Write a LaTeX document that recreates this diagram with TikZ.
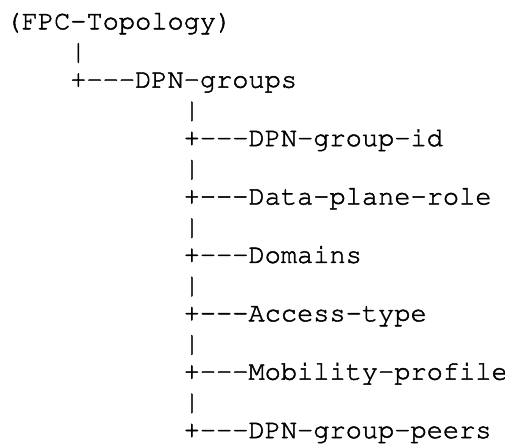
\documentclass[tikz,border=0pt]{standalone}
\usepackage[T1]{fontenc}
\newcommand\treemono{\fontfamily{pcr}\fontseries{m}\fontshape{n}\selectfont}
% branch mark, with the dashes kept apart so no ligature forms
\newcommand\branchmark{+-{}-{}-}
% slightly heavier strokes for the light Courier outlines (fill + stroke)
\newcommand\heavyon{\special{pdf:literal direct 2 Tr 0.45 w}}
\newcommand\heavyoff{\special{pdf:literal direct 0 Tr}}
\begin{document}
\begin{tikzpicture}[
  x=1pt, y=1pt,
  treeline/.style={anchor=base west, inner sep=0pt, outer sep=0pt,
    font=\fontsize{27}{29.2}\treemono, text=black,
    execute at begin node=\heavyon, execute at end node=\heavyoff},
]
% canvas
\fill[white] (0,0) rectangle (505,-446);
\useasboundingbox (0,0) rectangle (505,-446);
% character grid: column pitch and row pitch
\def\cw{16.2}
\def\rh{29.2}
\def\xo{5.5}
\def\yo{29.3}
% root
\node[treeline] (root) at (\xo, -\yo) {(FPC-Topology)};
\node[treeline] (bar1) at (\xo+4*\cw, -\yo-1*\rh-1) {|};
\node[treeline] (groups) at (\xo+4*\cw, -\yo-2*\rh) {\branchmark DPN-groups};
% children of DPN-groups
\node[treeline] (bar2) at (\xo+11*\cw, -\yo-3*\rh-1) {|};
\node[treeline] (gid) at (\xo+11*\cw, -\yo-4*\rh) {\branchmark DPN-group-id};
\node[treeline] (bar3) at (\xo+11*\cw, -\yo-5*\rh-1) {|};
\node[treeline] (role) at (\xo+11*\cw, -\yo-6*\rh) {\branchmark Data-plane-role};
\node[treeline] (bar4) at (\xo+11*\cw, -\yo-7*\rh-1) {|};
\node[treeline] (dom) at (\xo+11*\cw, -\yo-8*\rh) {\branchmark Domains};
\node[treeline] (bar5) at (\xo+11*\cw, -\yo-9*\rh-1) {|};
\node[treeline] (acc) at (\xo+11*\cw, -\yo-10*\rh) {\branchmark Access-type};
\node[treeline] (bar6) at (\xo+11*\cw, -\yo-11*\rh-1) {|};
\node[treeline] (mob) at (\xo+11*\cw, -\yo-12*\rh) {\branchmark Mobility-profile};
\node[treeline] (bar7) at (\xo+11*\cw, -\yo-13*\rh-1) {|};
\node[treeline] (peers) at (\xo+11*\cw, -\yo-14*\rh) {\branchmark DPN-group-peers};
\end{tikzpicture}
\end{document}
